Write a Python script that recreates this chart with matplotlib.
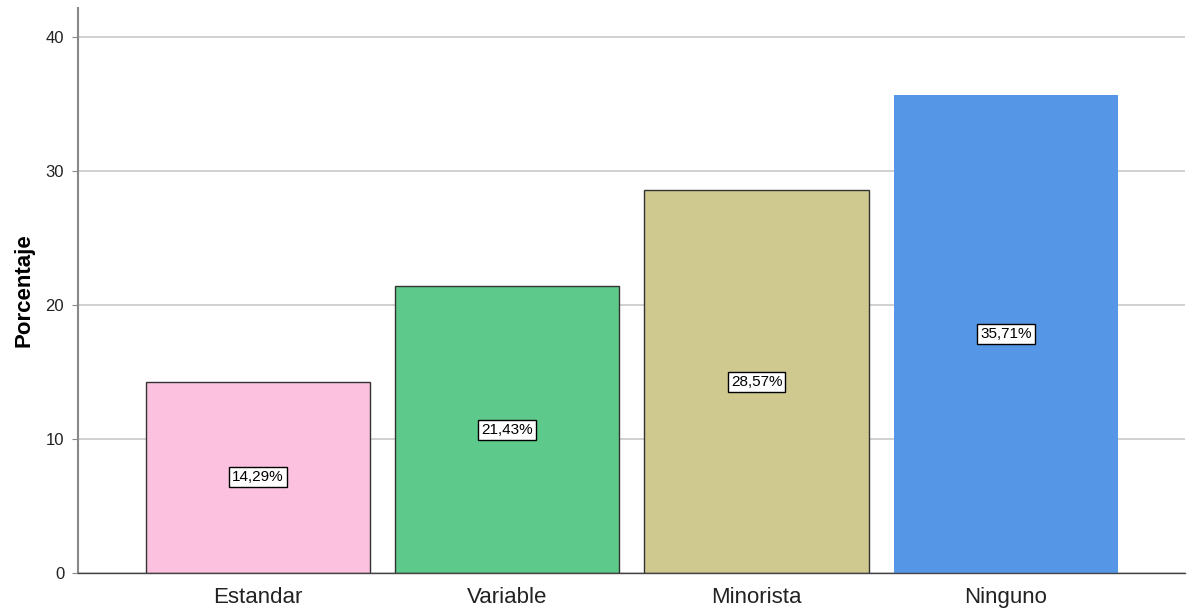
import numpy as np
import matplotlib.pyplot as plt

plt.rcParams['font.family'] = ['Liberation Sans', 'DejaVu Sans']

categorias = ['Estandar', 'Variable', 'Minorista', 'Ninguno']
porcentajes = [14.29, 21.43, 28.57, 35.71]
colores = ['#fdc1e0', '#5dc98b', '#cfc98f', '#5596e6']
bordes = ['#333333', '#333333', '#333333', 'none']

fig = plt.figure(figsize=(11.88, 6.09), dpi=100)
ax = fig.add_axes([0.0657, 0.059, 0.932, 0.928])

x = np.arange(len(categorias))
for i, (v, c, b) in enumerate(zip(porcentajes, colores, bordes)):
    ax.bar(x[i], v, width=0.9, color=c, edgecolor=b, linewidth=1.0, zorder=2)
    ax.text(x[i], v / 2, ('%.2f%%' % v).replace('.', ','), ha='center', va='center',
            fontsize=11, color='black', zorder=3,
            bbox=dict(boxstyle='square,pad=0.2', fc='white', ec='black', lw=1.0))

ax.set_xlim(-0.722, 3.72)
ax.set_ylim(0, 42.2)
ax.set_yticks([0, 10, 20, 30, 40])
ax.set_xticks(x)
ax.set_xticklabels(categorias, fontsize=16, color='#222222')
ax.tick_params(axis='x', length=0, pad=10)
ax.tick_params(axis='y', length=4, width=0.8, color='#888888', labelsize=12,
               labelcolor='#222222', pad=6)
ax.yaxis.grid(True, color='#c8c8c8', linewidth=1.2, zorder=0)
ax.set_axisbelow(True)
ax.set_ylabel('Porcentaje', fontsize=16, fontweight='bold', labelpad=8)

for s in ['top', 'right']:
    ax.spines[s].set_visible(False)
ax.spines['left'].set_color('#888888')
ax.spines['left'].set_linewidth(1.5)
ax.spines['bottom'].set_color('#444444')
ax.spines['bottom'].set_linewidth(1.0)

fig.savefig('out.png', dpi=100)
